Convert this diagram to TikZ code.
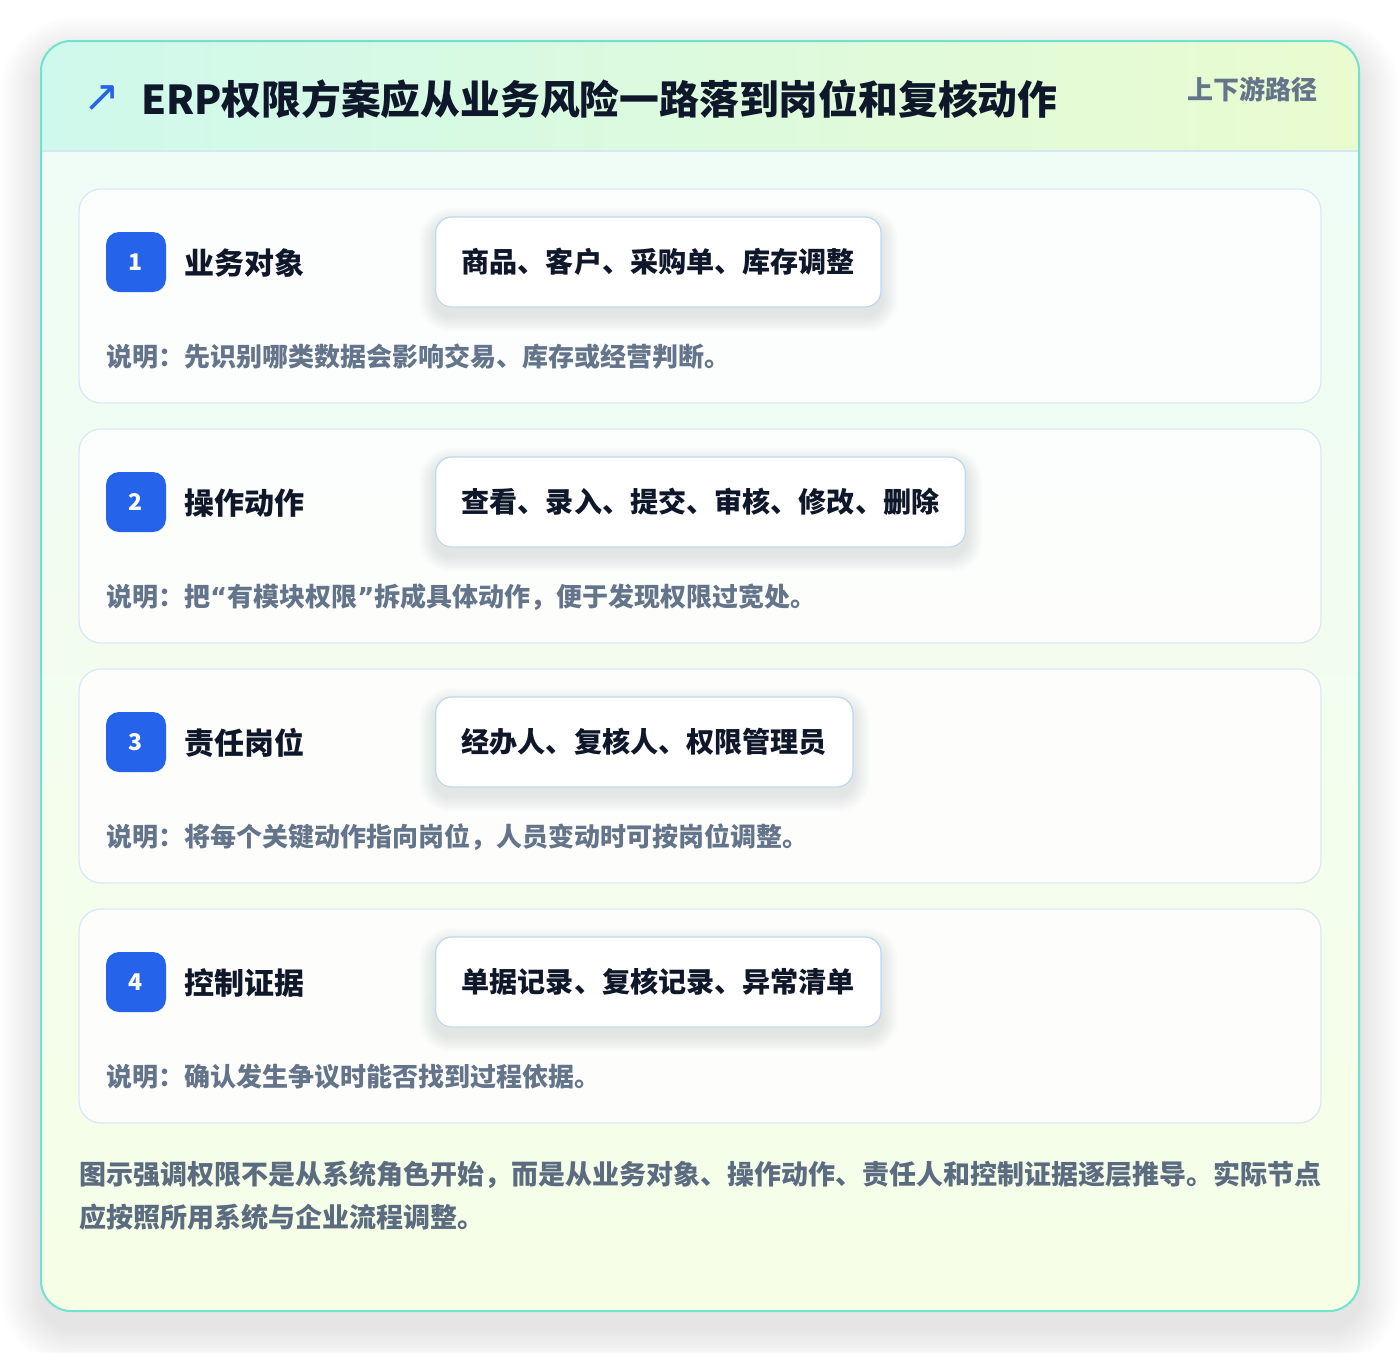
\documentclass[tikz,border=0pt]{standalone}
\usepackage{fontspec}
\setmainfont{Noto Sans CJK SC}
\newfontfamily\symfont{DejaVu Sans}
\definecolor{tealborder}{HTML}{6EE3CF}
\definecolor{hdrL}{HTML}{CFF9EC}
\definecolor{hdrR}{HTML}{EAFBD0}
\definecolor{bgTop}{HTML}{EEFDF8}
\definecolor{bgBot}{HTML}{F6FEE6}
\definecolor{cardline}{HTML}{DCE8F5}
\definecolor{pillline}{HTML}{BFD8F5}
\definecolor{badge}{HTML}{2563EB}
\definecolor{ink}{HTML}{0F172A}
\definecolor{muted}{HTML}{64748B}
\definecolor{footc}{HTML}{5B6B80}
\definecolor{sepline}{HTML}{D6E6F2}
\definecolor{shadowc}{HTML}{334155}
\pgfdeclarelayer{backl}
\pgfdeclarelayer{shadl}
\pgfsetlayers{backl,shadl,main}
\tikzset{
  stepcard/.style={draw=cardline, line width=1.3pt, rounded corners=22pt, fill=white, fill opacity=0.85, draw opacity=1},
  badgebox/.style={fill=badge, rounded corners=13pt, minimum width=60pt, minimum height=60pt, inner sep=0pt, text=white, font=\fontsize{23}{26}\selectfont\bfseries},
  steplabel/.style={anchor=west, inner sep=0pt, text=ink, font=\fontsize{30}{36}\selectfont\bfseries},
  pillbox/.style={anchor=west, draw=pillline, line width=1.3pt, fill=white, rounded corners=16pt, minimum height=90pt, inner xsep=26pt, text=ink, font=\fontsize{28.1}{33}\selectfont\bfseries},
  desctext/.style={anchor=west, inner sep=0pt, text=muted, font=\fontsize{26}{30}\selectfont\bfseries},
  foottext/.style={anchor=west, inner sep=0pt, text=footc, font=\fontsize{27}{33}\selectfont\bfseries},
  shadelayer/.style={fill=shadowc, opacity=#1},
}
\newcommand{\myLQ}{{\symfont\bfseries “}}
\newcommand{\myRQ}{{\symfont\bfseries ”}}
\begin{document}
\begin{tikzpicture}[x=1pt,y=-1pt]
\useasboundingbox (0,0) rectangle (1400,1352);
\begin{pgfonlayer}{backl}
\fill[white] (0,0) rectangle (1400,1352);
% outer card shadow
\foreach \k in {3,6,...,39}{
  \pgfmathsetmacro{\rr}{30+\k}
  \fill[shadelayer=0.008, rounded corners=\rr pt] (41-\k,41-\k+16) rectangle (1359+\k,1311+\k+16);
}
% outer card
\shade[rounded corners=30pt, top color=bgTop, bottom color=bgBot] (41,41) rectangle (1359,1311);
\begin{scope}
  \clip[rounded corners=30pt] (41,41) rectangle (1359,1311);
  \shade[left color=hdrL, right color=hdrR] (41,41) rectangle (1359,151);
  \draw[sepline, line width=1.5pt] (41,151) -- (1359,151);
\end{scope}
\draw[tealborder, line width=2pt, rounded corners=30pt] (41,41) rectangle (1359,1311);
\end{pgfonlayer}
% header
\node[anchor=center, inner sep=0pt, text=badge, font=\symfont\fontsize{44}{48}\selectfont] (arrow) at (102,99) {↗};
\node[anchor=west, inner sep=0pt, text=ink, font=\fontsize{39.8}{48}\selectfont\bfseries] (title) at (141,99) {ERP权限方案应从业务风险一路落到岗位和复核动作};
\node[anchor=east, inner sep=0pt, text=muted, font=\fontsize{26}{30}\selectfont\bfseries] (tag) at (1318,89) {上下游路径};
% steps
\foreach \i/\lab/\items/\desc in {
  0/业务对象/商品、客户、采购单、库存调整/说明：先识别哪类数据会影响交易、库存或经营判断。,
  1/操作动作/查看、录入、提交、审核、修改、删除/说明：把\myLQ 有模块权限\myRQ 拆成具体动作，便于发现权限过宽处。,
  2/责任岗位/经办人、复核人、权限管理员/说明：将每个关键动作指向岗位，人员变动时可按岗位调整。,
  3/控制证据/单据记录、复核记录、异常清单/说明：确认发生争议时能否找到过程依据。}{
  \pgfmathsetmacro{\top}{189+240*\i}
  \pgfmathtruncatemacro{\num}{\i+1}
  \begin{pgfonlayer}{backl}
    \draw[stepcard] (79,\top) rectangle (1321,\top+214);
  \end{pgfonlayer}
  \node[badgebox] (badge\num) at (136,\top+73) {\num};
  \node[steplabel] (label\num) at (184,\top+74) {\lab};
  \node[pillbox] (pill\num) at (435,\top+73) {\items};
  \begin{pgfonlayer}{shadl}
    \foreach \k in {2,4,...,16}{
      \pgfmathsetmacro{\rr}{16+\k}
      \fill[shadelayer=0.014, rounded corners=\rr pt] ([xshift=-\k pt, yshift=-\k pt-8pt]pill\num.south west) rectangle ([xshift=\k pt, yshift=\k pt-8pt]pill\num.north east);
    }
  \end{pgfonlayer}
  \node[desctext] (desc\num) at (106,\top+168) {\desc};
}
% footer
\node[foottext] (foot1) at (79,1175) {图示强调权限不是从系统角色开始，而是从业务对象、操作动作、责任人和控制证据逐层推导。实际节点};
\node[foottext] (foot2) at (79,1217) {应按照所用系统与企业流程调整。};
\end{tikzpicture}
\end{document}
